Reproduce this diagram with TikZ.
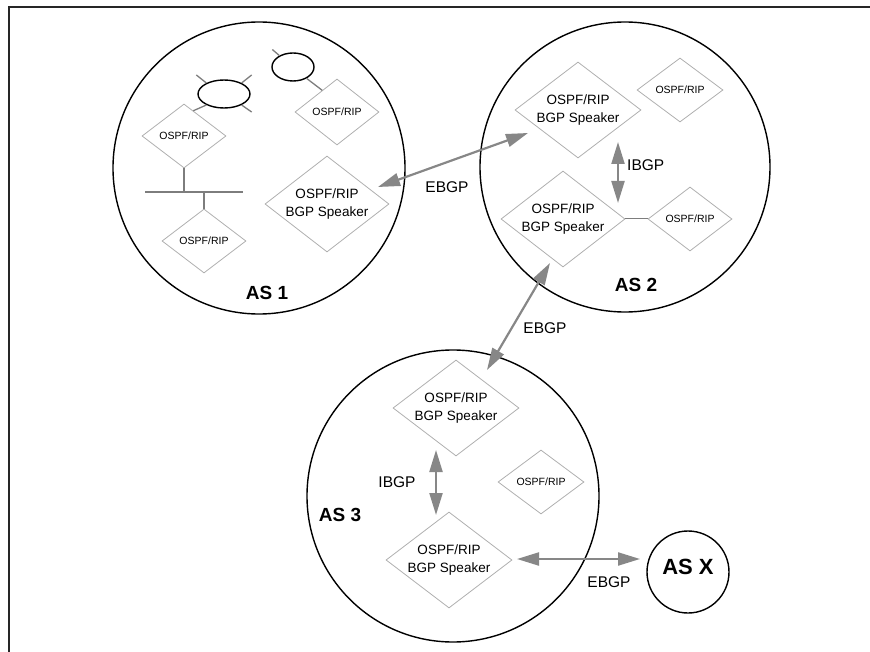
\documentclass[tikz,border=0pt]{standalone}
\usepackage{fontspec}
\setmainfont{Liberation Sans}
\usetikzlibrary{shapes.geometric,arrows.meta,calc}
\definecolor{arrowgray}{RGB}{135,135,135}
\definecolor{diagray}{RGB}{175,175,175}
\definecolor{stubgray}{RGB}{125,125,125}
\begin{document}
\begin{tikzpicture}[x=1pt,y=-1pt,
  frameline/.style={draw=black!85,line width=2pt},
  ascircle/.style={circle,draw=black,line width=1.4pt,inner sep=0pt},
  ell/.style={ellipse,draw=black,line width=1.4pt,inner sep=0pt},
  smalldia/.style={diamond,draw=diagray,line width=0.8pt,inner sep=0pt,minimum width=84pt,minimum height=64pt},
  bigdia/.style={diamond,draw=diagray,line width=0.8pt,inner sep=0pt,minimum width=126pt,minimum height=96pt},
  smalltext/.style={inner sep=0pt,font=\fontsize{10.5}{12}\selectfont},
  bgptext/.style={inner sep=0pt,align=center,font=\fontsize{13.5}{18}\selectfont},
  linklabel/.style={inner sep=0pt,font=\fontsize{15.5}{18}\selectfont},
  aslabel/.style={inner sep=0pt,font=\fontsize{19}{22}\selectfont\bfseries},
  stub/.style={draw=stubgray,line width=1.3pt},
  dblarrow/.style={draw=arrowgray,line width=2.2pt,{Triangle[length=22pt,width=13pt]}-{Triangle[length=22pt,width=13pt]}}
]
\useasboundingbox (0,0) rectangle (870,652);
% frame
\coordinate (fbl) at (9,652);
\coordinate (ftl) at (9,7);
\coordinate (ftr) at (870,7);
\draw[frameline] (fbl) -- (ftl) -- (ftr);

% AS circles
\node[ascircle,minimum size=292pt] (as1) at (259,168) {};
\node[ascircle,minimum size=290pt] (as2) at (625,167) {};
\node[ascircle,minimum size=292pt] (as3) at (453,496) {};
\node[ascircle,minimum size=82pt] (asx) at (688,572) {};

% AS 1 contents
\node[ell,minimum width=52pt,minimum height=28pt] (e1) at (224,94) {};
\node[ell,minimum width=42pt,minimum height=28pt] (e2) at (293,67) {};
\node[smalldia] (a1o1) at (184,136) {};
\node[smalltext] (a1o1t) at (a1o1) {OSPF/RIP};
\node[smalldia,minimum height=66pt] (a1o2) at (337,112) {};
\node[smalltext] (a1o2t) at (a1o2) {OSPF/RIP};
\node[smalldia] (a1o3) at (204,241) {};
\node[smalltext] (a1o3t) at (a1o3) {OSPF/RIP};
\node[bigdia,minimum width=124pt] (a1b) at (327,204) {};
\node[bgptext] (a1bt) at (a1b) {OSPF/RIP\\BGP Speaker};

\draw[stub] (e1.148) -- ++(-10,-8);
\draw[stub] (e1.32) -- ++(10,-8);
\draw[stub] (e1.328) -- ++(10,7);
\draw[stub] (e1.212) -- ($(a1o1.north)!0.22!(a1o1.east)$);
\draw[stub] (e2.140) -- ++(-7,-6);
\draw[stub] (e2.320) -- ($(a1o2.north)!0.35!(a1o2.west)$);

\coordinate (busl) at (145,192);
\coordinate (busr) at (243,192);
\draw[stub] (busl) -- (busr);
\draw[stub] (a1o1.south) -- (a1o1.south |- busl);
\draw[stub] (a1o3.north |- busl) -- (a1o3.north);

\node[aslabel] (as1l) at (267,293) {AS 1};

% AS 2 contents
\node[bigdia] (a2b1) at (578,110) {};
\node[bgptext] (a2b1t) at (a2b1) {OSPF/RIP\\BGP Speaker};
\node[smalldia,minimum width=86pt] (a2o1) at (680,90) {};
\node[smalltext] (a2o1t) at (a2o1) {OSPF/RIP};
\node[bigdia,minimum width=124pt] (a2b2) at (563,219) {};
\node[bgptext] (a2b2t) at (a2b2) {OSPF/RIP\\BGP Speaker};
\node[smalldia] (a2o2) at (690,219) {};
\node[smalltext] (a2o2t) at (a2o2) {OSPF/RIP};
\draw[stub,line width=1pt] (a2b2.east) -- (a2o2.west);
\node[aslabel] (as2l) at (636,285) {AS 2};

\coordinate (ib2a) at (618,142);
\coordinate (ib2b) at (618,203);
\draw[dblarrow] (ib2a) -- (ib2b);
\node[linklabel,anchor=west] (ib2l) at (627,165) {IBGP};

% AS 3 contents
\node[bigdia] (a3b1) at (456,408) {};
\node[bgptext] (a3b1t) at (a3b1) {OSPF/RIP\\BGP Speaker};
\node[smalldia,minimum width=86pt] (a3o1) at (541,482) {};
\node[smalltext] (a3o1t) at (a3o1) {OSPF/RIP};
\node[bigdia] (a3b2) at (449,560) {};
\node[bgptext] (a3b2t) at (a3b2) {OSPF/RIP\\BGP Speaker};
\node[aslabel] (as3l) at (340,515) {AS 3};

\coordinate (ib3a) at (436,450);
\coordinate (ib3b) at (436,515);
\draw[dblarrow] (ib3a) -- (ib3b);
\node[linklabel] (ib3l) at (397,482) {IBGP};

% AS X
\node[aslabel,font=\fontsize{22}{24}\selectfont\bfseries] (asxl) at (688,567) {AS X};

% EBGP links
\coordinate (eb1a) at (378,187);
\coordinate (eb1b) at (528,133);
\draw[dblarrow] (eb1a) -- (eb1b);
\node[linklabel] (eb1l) at (447,187) {EBGP};

\coordinate (eb2a) at (550,263);
\coordinate (eb2b) at (487,370);
\draw[dblarrow] (eb2a) -- (eb2b);
\node[linklabel] (eb2l) at (545,328) {EBGP};

\coordinate (eb3a) at (517,559);
\coordinate (eb3b) at (640,559);
\draw[dblarrow] (eb3a) -- (eb3b);
\node[linklabel] (eb3l) at (609,582) {EBGP};
\end{tikzpicture}
\end{document}
